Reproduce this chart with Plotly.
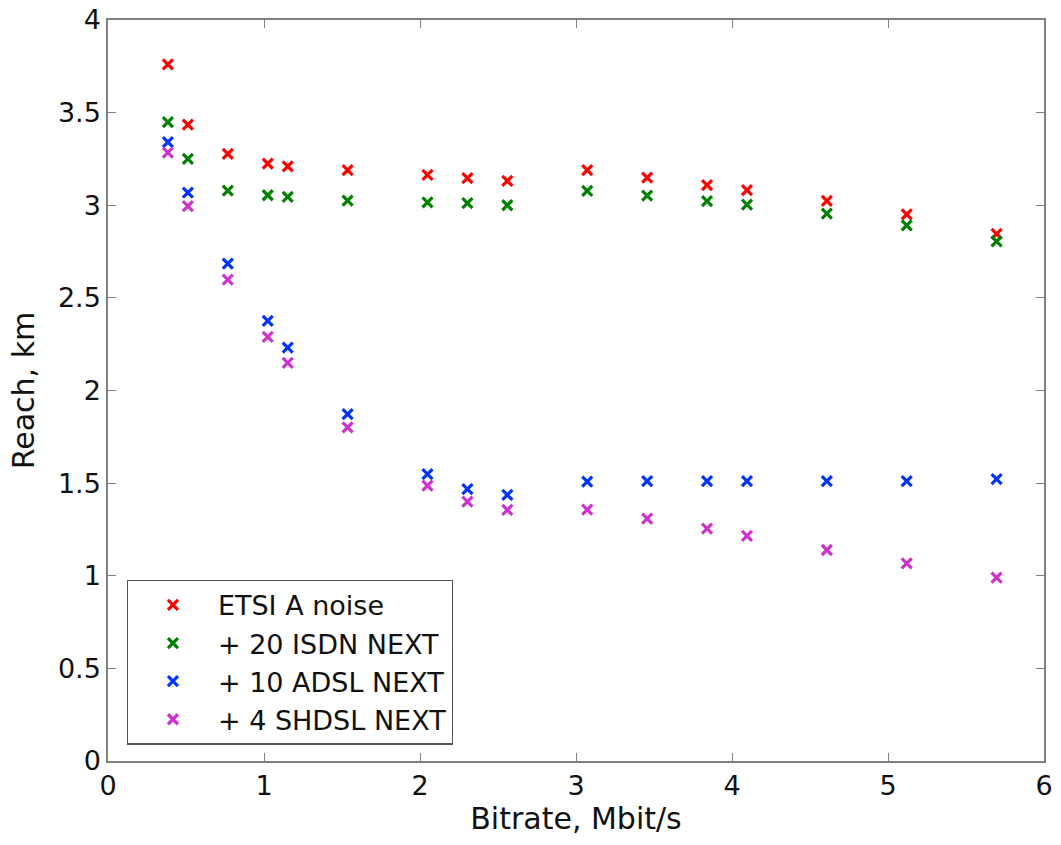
import plotly.graph_objects as go

bitrate = [0.384, 0.512, 0.768, 1.024, 1.152, 1.536, 2.048, 2.304, 2.560,
           3.072, 3.456, 3.840, 4.096, 4.608, 5.120, 5.696]

etsi_a = [3.76, 3.435, 3.277, 3.225, 3.21, 3.189, 3.164, 3.147, 3.131,
          3.189, 3.149, 3.108, 3.081, 3.023, 2.951, 2.845]
isdn20 = [3.449, 3.25, 3.079, 3.054, 3.045, 3.025, 3.016, 3.011, 3.0,
          3.077, 3.052, 3.022, 3.004, 2.955, 2.892, 2.805]
adsl10 = [3.341, 3.068, 2.685, 2.376, 2.232, 1.873, 1.549, 1.468, 1.436,
          1.508, 1.511, 1.511, 1.511, 1.511, 1.511, 1.522]
shdsl4 = [3.284, 2.995, 2.599, 2.290, 2.149, 1.801, 1.486, 1.400, 1.355,
          1.357, 1.308, 1.254, 1.215, 1.139, 1.067, 0.990]

series_names = ["ETSI A noise", "+ 20 ISDN NEXT", "+ 10 ADSL NEXT", "+ 4 SHDSL NEXT"]
series_values = [etsi_a, isdn20, adsl10, shdsl4]
colors = ["#ff0000", "#008000", "#0033ff", "#cc33cc"]

x_ticks = [0, 1, 2, 3, 4, 5, 6]
y_ticks = [0, 0.5, 1, 1.5, 2, 2.5, 3, 3.5, 4]
y_tick_text = ["0", "0.5", "1", "1.5", "2", "2.5", "3", "3.5", "4"]

fig = go.Figure()
for name, vals, col in zip(series_names, series_values, colors):
    fig.add_trace(go.Scatter(
        x=bitrate, y=vals, mode="markers", name=name,
        marker=dict(symbol="x-thin", size=10, color=col,
                    line=dict(width=3.2, color=col)),
    ))

font_family = "DejaVu Sans, Liberation Sans, Arial, sans-serif"
axis_common = dict(
    showline=True, mirror="ticks", linecolor="#808080", linewidth=1.5,
    ticks="inside", ticklen=8, tickcolor="#808080", tickwidth=1.2,
    showgrid=False, zeroline=False, automargin=False,
    ticklabeloverflow="allow",
    tickfont=dict(size=27, color="#111111", family=font_family),
)

fig.update_layout(
    width=1061, height=845,
    margin=dict(l=108, r=17, t=20, b=84),
    paper_bgcolor="white", plot_bgcolor="white",
    font=dict(family=font_family, color="#111111"),
    xaxis=dict(range=[0, 6], tickvals=x_ticks,
               title=dict(text="Bitrate, Mbit/s", font=dict(size=30), standoff=6),
               **axis_common),
    yaxis=dict(range=[0, 4], tickvals=y_ticks, ticktext=y_tick_text,
               title=dict(text="Reach, km", font=dict(size=30), standoff=14),
               **axis_common),
    legend=dict(
        x=0.02, y=0.022, xanchor="left", yanchor="bottom",
        bgcolor="white", bordercolor="#555555", borderwidth=1.2,
        font=dict(size=27, color="#111111"),
        tracegroupgap=0, itemwidth=80,
    ),
    showlegend=True,
)

fig.write_html("out.html",
               config={"displayModeBar": False},
               post_script="document.body.style.margin='0';document.body.style.overflow='hidden';")
